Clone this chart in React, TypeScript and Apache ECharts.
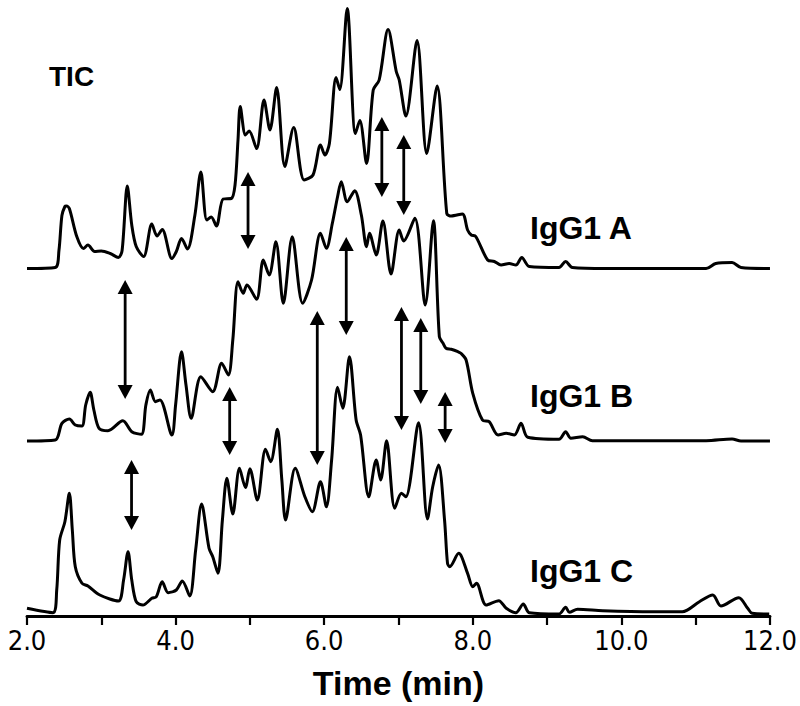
import React, { useEffect, useRef } from "react";
import * as echarts from "echarts";

// Trace intensities (relative to each trace's own baseline), time in minutes
const traceA: number[][] = [
  [2.0, 0], [2.38, 1], [2.43, 18], [2.47, 53], [2.51, 62], [2.53, 62.5], [2.57, 60], [2.67, 32], [2.76, 20],
  [2.82, 23.5], [2.91, 17], [3.0, 17.5], [3.12, 15], [3.23, 11], [3.28, 18], [3.35, 82.5], [3.41, 43.5],
  [3.47, 22], [3.57, 12], [3.68, 44.5], [3.75, 32.5], [3.82, 39], [3.95, 10], [4.01, 17], [4.08, 30],
  [4.16, 19.5], [4.26, 53.5], [4.34, 96.5], [4.42, 48.5], [4.48, 51.5], [4.55, 42.5], [4.64, 69.5],
  [4.75, 70], [4.8, 83.5], [4.84, 128.5], [4.87, 162], [4.94, 133.5], [4.99, 137.5], [5.09, 120],
  [5.19, 168.5], [5.27, 138.5], [5.36, 181], [5.47, 102], [5.59, 141], [5.73, 88.5], [5.85, 93.5],
  [5.95, 123.5], [6.01, 113.5], [6.07, 125], [6.16, 191], [6.21, 179], [6.31, 260], [6.42, 135],
  [6.48, 148], [6.57, 105], [6.66, 178.5], [6.74, 188.5], [6.86, 239], [6.97, 197], [7.01, 188.5],
  [7.1, 152.5], [7.25, 228], [7.38, 115], [7.52, 182.5], [7.65, 55], [7.71, 52.5], [7.86, 54.5],
  [7.93, 38.5], [7.98, 33.5], [8.04, 32], [8.2, 8.5], [8.29, 7], [8.38, 3.5], [8.49, 5], [8.58, 3.5],
  [8.66, 11], [8.76, 2], [9.16, 1], [9.25, 7], [9.34, 1], [9.79, 0], [11.14, 0], [11.27, 5], [11.49, 6],
  [11.61, 1], [12.0, 0],
];

const traceB: number[][] = [
  [2.0, 0], [2.38, 1], [2.47, 17.7], [2.57, 22], [2.65, 16], [2.74, 15], [2.79, 36], [2.85, 48.7],
  [2.9, 31], [2.97, 12.7], [3.09, 10.3], [3.29, 20.3], [3.41, 9.3], [3.54, 6.7], [3.6, 36], [3.66, 51],
  [3.73, 39.3], [3.79, 41], [3.95, 6], [4.0, 36], [4.08, 89.3], [4.14, 56], [4.21, 22.7], [4.34, 64.3],
  [4.5, 49.3], [4.62, 77.7], [4.71, 66], [4.77, 101], [4.84, 159.3], [4.91, 147.7], [4.96, 156],
  [5.09, 141.7], [5.18, 181], [5.26, 166], [5.35, 199.3], [5.45, 137.7], [5.57, 204.3], [5.71, 137.7],
  [5.83, 161], [5.95, 207.7], [6.03, 192.7], [6.11, 217.7], [6.18, 244.3], [6.23, 259.3], [6.31, 239.3],
  [6.41, 250.3], [6.5, 226], [6.57, 194.3], [6.61, 207.7], [6.7, 186], [6.79, 220], [6.9, 167],
  [7.01, 211], [7.07, 200], [7.22, 222.7], [7.36, 136], [7.47, 220.3], [7.55, 104.3], [7.6, 97.7],
  [7.64, 92.7], [7.71, 91.7], [7.8, 89.3], [7.84, 87.7], [7.91, 81], [8.0, 47.7], [8.13, 21],
  [8.22, 19.3], [8.34, 6], [8.45, 7.7], [8.56, 6], [8.65, 17.7], [8.74, 3.7], [9.16, 1.7], [9.25, 9.3],
  [9.32, 2.7], [9.48, 4.3], [9.61, 0.3], [11.14, 0.3], [11.49, 2], [11.61, 0], [12.0, 0],
];

const traceC: number[][] = [
  [2.0, 5.7], [2.35, 1.3], [2.4, 24], [2.44, 74], [2.51, 92.3], [2.57, 120.7], [2.61, 84], [2.65, 47.3],
  [2.74, 30.7], [2.82, 28], [2.98, 19], [3.23, 13], [3.3, 34], [3.36, 62.3], [3.41, 34], [3.47, 12.3],
  [3.56, 9], [3.68, 15.7], [3.74, 17.3], [3.82, 32.3], [3.9, 21.3], [4.01, 24], [4.09, 33], [4.19, 18],
  [4.27, 64], [4.35, 110], [4.45, 65.7], [4.5, 57.3], [4.57, 40.7], [4.63, 94], [4.69, 135.7], [4.77, 100],
  [4.86, 145.7], [4.94, 126.5], [5.0, 145.2], [5.1, 114], [5.21, 164.7], [5.28, 152.3], [5.37, 184.7],
  [5.43, 134], [5.48, 94], [5.61, 145.7], [5.74, 117.3], [5.84, 102.3], [5.95, 132.3], [6.03, 107.3],
  [6.1, 154], [6.18, 226.7], [6.25, 205.7], [6.34, 257.3], [6.43, 194], [6.49, 179], [6.6, 117.3],
  [6.7, 154], [6.76, 134], [6.84, 173.3], [6.95, 105.7], [7.04, 120.7], [7.1, 117.3], [7.27, 191.3],
  [7.39, 95], [7.46, 127], [7.54, 149], [7.62, 94], [7.66, 50.7], [7.69, 47.3], [7.81, 60.7], [7.93, 40.7],
  [8.0, 27.3], [8.05, 30.7], [8.18, 9], [8.35, 13.3], [8.45, 5.7], [8.58, 1.3], [8.68, 10], [8.76, 1.3],
  [9.16, 0], [9.25, 6.7], [9.3, 1.7], [9.41, 4.7], [9.75, 3.3], [10.42, 2.3], [10.82, 2.3], [11.05, 12.3],
  [11.23, 19], [11.34, 8], [11.58, 16.3], [11.7, 5.7], [11.76, 0.7], [11.99, 0],
];

const traceNames = ["IgG1 A", "IgG1 B", "IgG1 C"];
const traceOffsets = [347.5, 175, 2];

// Double-headed arrows: [time, upper value, lower value]
const arrows: number[][] = [
  [4.975, 444, 367], [6.776, 499, 419], [7.071, 481, 401],
  [3.321, 336, 217], [6.297, 379, 281], [5.907, 305, 151], [7.04, 309, 186],
  [7.3, 298, 212], [7.628, 224, 173], [4.728, 229, 161], [3.407, 156, 86],
];

const FONT = "'Liberation Sans', Arial, Helvetica, sans-serif";
const NARROW = "'Liberation Sans Narrow', 'Arial Narrow', 'DejaVu Sans Condensed', sans-serif";

export default function App() {
  const ref = useRef<HTMLDivElement>(null);
  useEffect(() => {
    if (!ref.current) return;
    const chart = echarts.init(ref.current, null, { renderer: "svg" });
    const traces = [traceA, traceB, traceC];
    const lineSeries = traces.map((d, i) => ({
      type: "line",
      name: traceNames[i],
      data: d.map(([t, v]) => [t, v + traceOffsets[i]]),
      showSymbol: false,
      smooth: 0.3,
      lineStyle: { color: "#000", width: 3 },
      z: 2,
    }));
    chart.setOption({
      animation: false,
      grid: { left: 27, right: 29, top: 6, bottom: 90 },
      xAxis: {
        type: "value",
        min: 2,
        max: 12,
        interval: 1,
        axisLine: { lineStyle: { color: "#000", width: 2.8 } },
        axisTick: { inside: false, length: 9, lineStyle: { color: "#000", width: 2.2 } },
        axisLabel: {
          formatter: (v: number) => (Math.round(v) % 2 === 0 ? v.toFixed(1) : ""),
          fontSize: 27,
          color: "#000",
          margin: 11,
          fontFamily: NARROW,
        },
        splitLine: { show: false },
        name: "Time (min)",
        nameLocation: "middle",
        nameGap: 50,
        nameTextStyle: { fontSize: 34, fontWeight: "bold", color: "#000", fontFamily: FONT },
      },
      yAxis: { type: "value", min: 0, max: 610, show: false },
      series: [
        ...lineSeries,
        {
          type: "custom",
          data: arrows,
          encode: { x: 0, y: [1, 2] },
          z: 3,
          renderItem: (params: any, api: any) => {
            const x = api.value(0);
            const p1 = api.coord([x, api.value(1)]);
            const p2 = api.coord([x, api.value(2)]);
            const top = Math.min(p1[1], p2[1]);
            const bot = Math.max(p1[1], p2[1]);
            const cx = p1[0];
            const hw = 7.5;
            const hh = 14;
            return {
              type: "group",
              children: [
                {
                  type: "line",
                  shape: { x1: cx, y1: top + hh - 2, x2: cx, y2: bot - hh + 2 },
                  style: { stroke: "#000", lineWidth: 2.8 },
                },
                {
                  type: "polygon",
                  shape: { points: [[cx, top], [cx - hw, top + hh], [cx + hw, top + hh]] },
                  style: { fill: "#000" },
                },
                {
                  type: "polygon",
                  shape: { points: [[cx, bot], [cx - hw, bot - hh], [cx + hw, bot - hh]] },
                  style: { fill: "#000" },
                },
              ],
            };
          },
        },
      ],
      graphic: [
        { type: "text", x: 49, y: 76, style: { text: "TIC", fill: "#000", fontSize: 28, fontWeight: "bold", fontFamily: FONT, verticalAlign: "middle" } },
        { type: "text", x: 530, y: 228, style: { text: traceNames[0], fill: "#000", fontSize: 32, fontWeight: "bold", fontFamily: FONT, verticalAlign: "middle" } },
        { type: "text", x: 530, y: 396, style: { text: traceNames[1], fill: "#000", fontSize: 32, fontWeight: "bold", fontFamily: FONT, verticalAlign: "middle" } },
        { type: "text", x: 530, y: 571, style: { text: traceNames[2], fill: "#000", fontSize: 32, fontWeight: "bold", fontFamily: FONT, verticalAlign: "middle" } },
      ],
    });
    return () => chart.dispose();
  }, []);
  return (
    <div
      ref={ref}
      style={{ position: "absolute", left: 0, top: 0, width: 800, height: 706, background: "#fff" }}
    />
  );
}
